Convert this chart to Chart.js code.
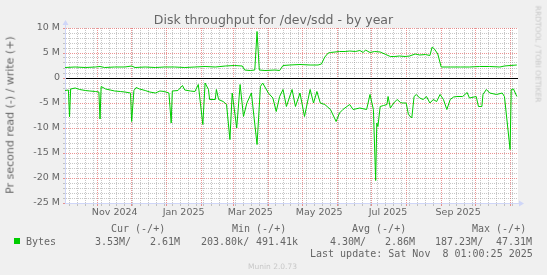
<!DOCTYPE html>
<html><head><meta charset="utf-8">
<script src="https://cdn.jsdelivr.net/npm/chart.js@4"></script>
<style>
html,body{margin:0;padding:0;background:#f0f0f0;}
#wrap{position:relative;width:547px;height:275px;overflow:hidden;font-family:"DejaVu Sans",sans-serif;color:#666;}
canvas{position:absolute;left:0;top:0;}
.t{position:absolute;white-space:pre;}
.m{font-family:"DejaVu Sans Mono",monospace;font-size:10px;line-height:12px;}
</style></head>
<body><div id="wrap">
<canvas id="c" width="547" height="275"></canvas>
<div class="t" style="left:0;width:547px;text-align:center;top:12px;font-size:12.5px;line-height:15px;">Disk throughput for /dev/sdd - by year</div>
<div class="t" style="left:10px;top:115px;font-size:11px;line-height:13px;transform:translate(-50%,-50%) rotate(-90deg);">Pr second read (-) / write (+)</div>
<div class="t" style="left:538px;top:54px;font-size:7.5px;line-height:9px;color:#c8c8c8;transform:translate(-50%,-50%) rotate(90deg);">RRDTOOL / TOBI OETIKER</div>
<div class="t m" style="left:111px;top:223px;">Cur (-/+)</div>
<div class="t m" style="left:232px;top:223px;">Min (-/+)</div>
<div class="t m" style="left:352px;top:223px;">Avg (-/+)</div>
<div class="t m" style="left:472px;top:223px;">Max (-/+)</div>
<div style="position:absolute;left:14px;top:238px;width:6px;height:6px;background:#00cc00;"></div>
<div class="t m" style="left:26px;top:236px;">Bytes</div>
<div class="t m" style="left:95px;top:236px;">3.53M/</div>
<div class="t m" style="left:150px;top:236px;">2.61M</div>
<div class="t m" style="left:201px;top:236px;">203.80k/</div>
<div class="t m" style="left:256px;top:236px;">491.41k</div>
<div class="t m" style="left:330px;top:236px;">4.30M/</div>
<div class="t m" style="left:385px;top:236px;">2.86M</div>
<div class="t m" style="left:435px;top:236px;">187.23M/</div>
<div class="t m" style="left:496px;top:236px;">47.31M</div>
<div class="t m" style="left:310px;top:248px;">Last update: Sat Nov  8 01:00:25 2025</div>
<div class="t" style="left:0;width:545px;text-align:center;top:262px;font-size:7.5px;line-height:9px;color:#c8c8c8;">Munin 2.0.73</div>
</div>
<script>
// days since 2024-10-03 (left edge of the graph)
const readDays = [0,3,4,5,9,13,18,22,27,30,31,32,36,40,44,49,53,58,59,61,63,66,71,75,80,84,88,92,94,95,100,104,106,111,115,118,122,124,127,128,133,134,136,140,143,146,148,152,155,158,161,165,170,173,175,180,184,187,190,193,196,201,204,208,212,217,220,223,226,230,235,240,243,246,252,255,261,267,270,273,275,276,277,279,282,285,286,288,291,294,297,299,302,304,307,309,311,314,317,320,323,326,329,332,335,338,341,344,347,352,356,358,364,366,369,370,373,376,382,387,389,394,395,397,400];
const readVals = [2.5,2.4,7.8,2.2,2.0,2.3,2.5,2.6,2.7,2.8,8.2,1.7,2.2,2.4,2.6,2.7,2.8,3.0,8.7,2.5,1.9,2.2,2.5,2.8,3.0,2.6,2.7,3.0,9.0,2.6,2.5,1.5,2.4,2.6,2.7,1.3,9.3,1.0,2.3,4.3,4.3,2.3,4.3,4.7,5.3,12.3,3.0,10.0,1.3,7.7,5.0,3.0,13.3,1.7,1.0,3.0,4.0,6.7,3.7,2.3,5.7,2.3,5.7,3.0,7.7,2.3,5.0,2.7,5.0,5.3,6.3,8.7,7.0,6.3,5.3,6.3,6.0,6.3,3.3,6.3,20.5,9.0,9.7,5.7,5.5,5.3,3.7,6.0,5.0,4.3,4.9,5.0,5.0,7.3,8.0,3.7,3.3,4.0,4.3,3.7,5.0,4.3,4.7,3.3,4.3,6.3,4.3,3.8,3.7,3.7,2.9,4.0,3.7,5.7,5.7,3.3,2.3,3.0,3.3,3.0,3.7,14.3,2.3,2.2,3.7];
const writeDays = [0,9,18,27,31,35,44,53,59,62,71,80,88,97,106,115,124,133,142,150,157,159,164,168,170,172,177,186,190,193,199,208,217,224,227,230,233,235,239,243,248,252,257,261,264,266,270,274,279,284,288,292,296,301,305,310,314,319,323,325,327,330,333,341,350,358,367,376,385,389,394,400];
const writeVals = [2.1,2.2,2.1,2.2,2.3,2.1,2.2,2.2,2.4,2.1,2.2,2.1,2.2,2.2,2.1,2.2,2.3,2.2,2.4,2.5,2.4,1.6,1.5,1.6,9.3,1.6,1.5,1.6,1.5,2.5,2.6,2.7,2.6,2.6,2.8,4.2,5.0,5.1,5.2,5.3,5.3,5.4,5.3,5.5,5.1,5.6,5.1,5.3,5.2,4.7,4.3,4.3,4.4,4.3,4.4,4.8,4.6,4.7,4.5,6.2,5.8,4.8,2.2,2.2,2.2,2.2,2.3,2.3,2.2,2.4,2.5,2.6];
const monthStartDays = [29,59,90,121,149,180,210,241,271,302,333,363,394];
const labelDays = [44,105,164,225,286,348];
const labelTexts = ['Nov 2024','Jan 2025','Mar 2025','May 2025','Jul 2025','Sep 2025'];
const yMin = -25, yMax = 10;

const RED = 'rgba(222,79,79,0.6)';
const GRAY = 'rgba(143,143,143,0.5)';
const AXIS = '#CFD6F8';
const GREEN = '#00CC00';

const deco = {
  id: 'deco',
  beforeDraw(chart) {
    const {ctx, chartArea: a} = chart;
    ctx.save(); ctx.fillStyle = '#ffffff';
    ctx.fillRect(a.left, a.top, a.right - a.left, a.bottom - a.top);
    ctx.restore();
  },
  afterDraw(chart) {
    const {ctx, chartArea: a} = chart;
    ctx.save();
    ctx.strokeStyle = AXIS; ctx.fillStyle = AXIS; ctx.lineWidth = 1;
    ctx.beginPath(); ctx.moveTo(a.left + 0.5, a.top); ctx.lineTo(a.left + 0.5, a.top - 4); ctx.stroke();
    ctx.beginPath(); ctx.moveTo(a.left - 2.5, a.top - 3); ctx.lineTo(a.left + 3.5, a.top - 3); ctx.lineTo(a.left + 0.5, a.top - 8); ctx.closePath(); ctx.fill();
    ctx.beginPath(); ctx.moveTo(a.right, a.bottom + 0.5); ctx.lineTo(a.right + 2, a.bottom + 0.5); ctx.stroke();
    ctx.beginPath(); ctx.moveTo(a.right + 1, a.bottom - 2.5); ctx.lineTo(a.right + 1, a.bottom + 3.5); ctx.lineTo(a.right + 6, a.bottom + 0.5); ctx.closePath(); ctx.fill();
    ctx.restore();
  }
};

new Chart(document.getElementById('c'), {
  type: 'line',
  data: {
    datasets: [
      { label: 'write', data: writeDays.map((d, i) => ({x: d, y: writeVals[i]})), borderColor: GREEN, borderWidth: 1, pointRadius: 0, tension: 0, fill: false },
      { label: 'read', data: readDays.map((d, i) => ({x: d, y: -readVals[i]})), borderColor: GREEN, borderWidth: 1, pointRadius: 0, tension: 0, fill: false }
    ]
  },
  options: {
    responsive: false, animation: false, devicePixelRatio: 1,
    layout: { padding: { top: 28, right: 29, left: 0, bottom: 0 } },
    plugins: { legend: { display: false }, tooltip: { enabled: false }, title: { display: false } },
    scales: {
      x: {
        type: 'linear', min: 0, max: 401,
        afterFit: s => { s.height = 72; },
        afterBuildTicks: s => {
          const t = [];
          for (let d = 4; d < 401; d += 7) if (!monthStartDays.includes(d)) t.push({value: d, kind: 'minor'});
          monthStartDays.forEach(d => t.push({value: d, kind: 'major'}));
          labelDays.forEach((d, i) => t.push({value: d, kind: 'label', text: labelTexts[i]}));
          t.sort((a, b) => a.value - b.value);
          s.ticks = t;
        },
        ticks: {
          autoSkip: false, maxRotation: 0, padding: 1, color: '#666',
          font: { family: 'DejaVu Sans', size: 9.5 },
          callback: (v, i, ticks) => ticks[i].kind === 'label' ? ticks[i].text : ''
        },
        grid: {
          color: c => c.tick ? (c.tick.kind === 'major' ? RED : c.tick.kind === 'minor' ? GRAY : 'transparent') : GRAY,
          tickColor: c => c.tick ? (c.tick.kind === 'major' ? RED : c.tick.kind === 'minor' ? GRAY : 'transparent') : GRAY,
          lineWidth: 1, tickLength: 3
        },
        border: { color: AXIS, width: 1, dash: [1, 1] }
      },
      y: {
        type: 'linear', min: yMin, max: yMax,
        afterFit: s => { s.width = 65; },
        afterBuildTicks: s => {
          const t = [];
          for (let v = yMin; v <= yMax; v++) t.push({value: v});
          s.ticks = t;
        },
        ticks: {
          autoSkip: false, padding: 3, color: '#666',
          font: { family: 'DejaVu Sans', size: 9.5 },
          callback: v => v === 0 ? '0' : (v % 5 === 0 ? v + ' M' : '')
        },
        grid: {
          color: c => c.tick ? (c.tick.value === 0 ? '#000000' : (c.tick.value % 5 === 0 ? RED : GRAY)) : GRAY,
          tickColor: c => c.tick ? (c.tick.value % 5 === 0 ? RED : GRAY) : GRAY,
          lineWidth: 1, tickLength: 2
        },
        border: { color: AXIS, width: 1, dash: c => (c.tick && c.tick.value === 0) ? [] : [1, 1] }
      }
    }
  },
  plugins: [deco]
});
</script>
</body></html>
